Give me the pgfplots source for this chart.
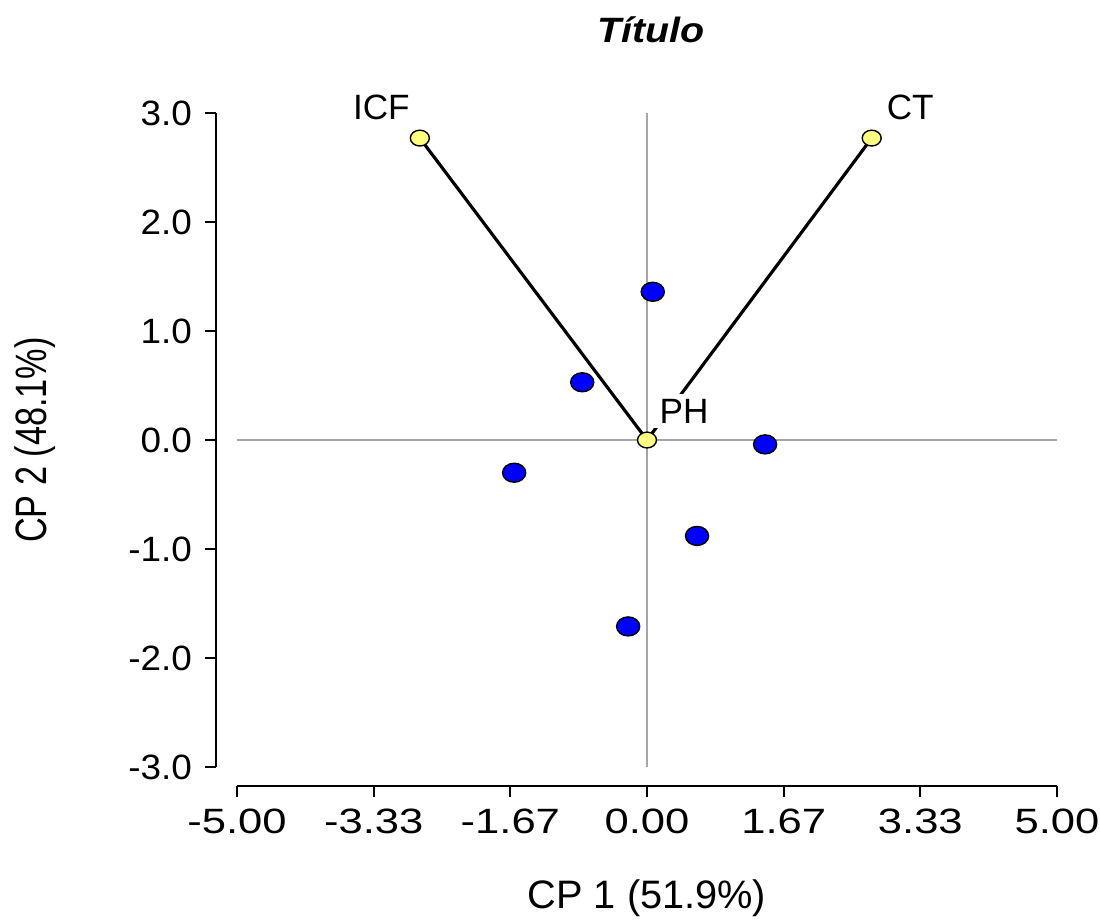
\documentclass[border=0pt]{standalone}
\usepackage{fontspec}
\setmainfont{Liberation Sans}
\usepackage{pgfplots}
\pgfplotsset{compat=1.18}
\definecolor{ptblue}{RGB}{0,0,255}
\definecolor{ptyellow}{RGB}{255,255,128}
\definecolor{refgray}{RGB}{165,165,165}
\begin{document}
\begin{tikzpicture}
\begin{axis}[
  scale only axis, width=8.2cm, height=6.54cm,
  xmin=-5, xmax=5, ymin=-3, ymax=3,
  axis x line*=bottom, axis y line*=left,
  axis x line shift=0.19cm, axis y line shift=0.21cm,
  axis line style={line width=0.55pt},
  tick align=outside, major tick length=0.11cm,
  tick style={black, line width=0.55pt},
  xtick={-5,-3.333,-1.667,0,1.667,3.333,5},
  xticklabels={-5.00,-3.33,-1.67,0.00,1.67,3.33,5.00},
  ytick={-3,-2,-1,0,1,2,3},
  yticklabels={-3.0,-2.0,-1.0,0.0,1.0,2.0,3.0},
  xticklabel style={font=\fontsize{10}{12}\selectfont, xscale=1.24},
  yticklabel style={font=\fontsize{10}{12}\selectfont, xscale=1.05},
  clip=false,
]
\addplot[refgray, line width=0.4pt] coordinates {(-5,0) (5,0)};
\addplot[refgray, line width=0.4pt] coordinates {(0,-3) (0,3)};
\addplot[black, line width=0.9pt] coordinates {(0,0) (-2.77,2.77)};
\addplot[black, line width=0.9pt] coordinates {(0,0) (2.74,2.77)};
\addplot[draw=none] coordinates {(0,0)} node[pos=1, fill=white, inner sep=1.5pt, xshift=0.37cm, yshift=0.29cm, font=\fontsize{10}{12}\selectfont] {PH};
\addplot[only marks, mark=*, mark size=2.7pt, mark options={xscale=1.22, fill=ptblue, draw=black, line width=0.4pt}] coordinates {
  (0.07,1.36) (-0.79,0.53) (-1.62,-0.30) (1.44,-0.04) (0.61,-0.88) (-0.23,-1.71)
};
\addplot[only marks, mark=*, mark size=2.25pt, mark options={xscale=1.2, fill=ptyellow, draw=black, line width=0.4pt}] coordinates {
  (-2.77,2.77) (2.74,2.77) (0,0)
};
\node[font=\fontsize{10}{12}\selectfont] at (axis cs:-3.24,3.05) {ICF};
\node[font=\fontsize{10}{12}\selectfont] at (axis cs:3.21,3.05) {CT};
\node[font=\fontsize{11.3}{13}\selectfont] at (rel axis cs:0.5,-0.2) {CP 1 (51.9\%)};
\node[font=\fontsize{12.5}{14}\selectfont, rotate=90, xscale=0.78] at (rel axis cs:-0.246,0.5) {CP 2 (48.1\%)};
\node[font=\fontsize{10}{12}\selectfont\bfseries\itshape, xscale=1.12] at (rel axis cs:0.505,1.127) {Título};
\coordinate (bbSW) at (rel axis cs:-0.289,-0.2355);
\coordinate (bbNE) at (rel axis cs:1.0524,1.1728);
\end{axis}
\pgfresetboundingbox
\path (bbSW) rectangle (bbNE);
\end{tikzpicture}
\end{document}
